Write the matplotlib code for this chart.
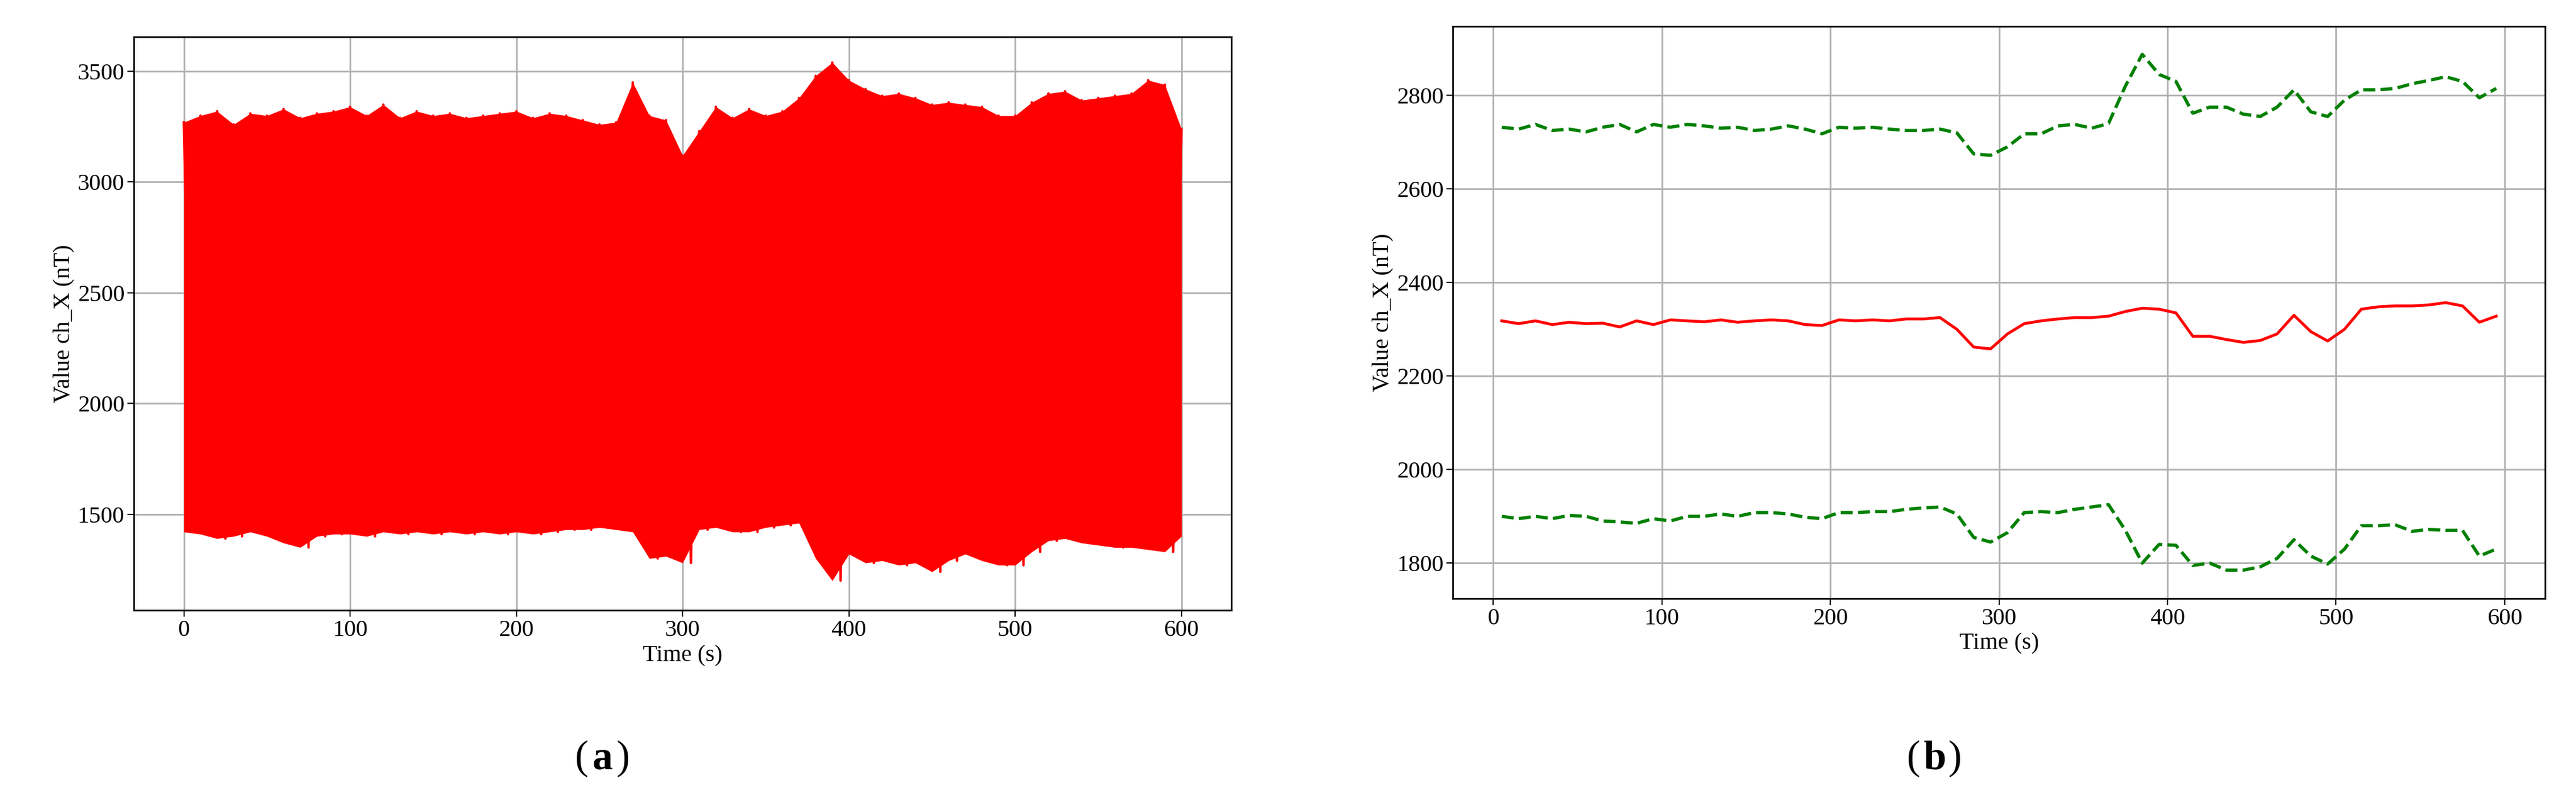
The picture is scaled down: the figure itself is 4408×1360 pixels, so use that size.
import numpy as np
import matplotlib
matplotlib.use("Agg")
import matplotlib.pyplot as plt

plt.rcParams['font.family'] = ['Liberation Serif', 'DejaVu Serif']

# Panel (a): envelope of the dense signal (every 10 s)
t_a = list(range(0, 601, 10))
upper_a = [3270,3300,3320,3260,3310,3300,3330,3290,3310,3320,
           3340,3300,3350,3290,3320,3300,3310,3290,3300,3310,
           3320,3290,3310,3300,3280,3260,3270,3450,3300,3280,
           3120,3230,3340,3290,3330,3300,3320,3380,3480,3540,
           3460,3420,3390,3400,3380,3350,3360,3350,3340,3300,
           3300,3360,3400,3410,3370,3380,3390,3400,3460,3440,3240]
lower_a = [1420,1410,1390,1400,1420,1400,1370,1350,1400,1410,
           1410,1400,1420,1410,1420,1410,1420,1410,1420,1410,
           1420,1410,1420,1430,1430,1440,1430,1420,1300,1310,
           1280,1430,1440,1420,1420,1440,1450,1460,1300,1200,
           1320,1280,1290,1270,1280,1240,1290,1320,1290,1270,
           1270,1330,1380,1390,1370,1360,1350,1350,1340,1330,1400]

# Panel (b)
t_b = list(range(5, 600, 10))
mid_b = [2318,2312,2318,2310,2315,2312,2313,2305,2318,2310,
         2320,2318,2316,2320,2315,2318,2320,2318,2310,2308,
         2320,2318,2320,2318,2322,2322,2325,2300,2262,2258,
         2290,2312,2318,2322,2325,2325,2328,2338,2345,2343,
         2335,2285,2285,2278,2272,2276,2290,2330,2295,2275,
         2300,2343,2348,2350,2350,2352,2357,2350,2315,2328]
up_b = [2732,2728,2738,2725,2728,2722,2732,2738,2722,2738,
        2732,2738,2735,2730,2732,2725,2728,2735,2728,2718,
        2732,2730,2732,2728,2725,2725,2728,2720,2675,2672,
        2690,2718,2718,2735,2738,2730,2740,2820,2888,2845,
        2830,2762,2775,2775,2760,2755,2775,2812,2765,2755,
        2790,2812,2812,2815,2825,2832,2840,2830,2795,2815]
low_b = [1900,1895,1900,1895,1902,1900,1890,1888,1885,1895,
         1890,1900,1900,1905,1900,1908,1908,1905,1898,1895,
         1908,1908,1910,1910,1915,1918,1920,1905,1855,1845,
         1865,1908,1910,1908,1915,1920,1925,1870,1800,1840,
         1838,1795,1800,1785,1785,1792,1810,1850,1815,1798,
         1830,1880,1880,1882,1868,1872,1870,1870,1815,1830]

fig = plt.figure(figsize=(44.08, 13.6), dpi=100)
ax1 = fig.add_axes([0.052, 0.232, 0.426, 0.722])
ax2 = fig.add_axes([0.564, 0.247, 0.424, 0.72])

tz, yz = [], []
for i in range(len(t_a)):
    tz.append(t_a[i]); yz.append(upper_a[i])
    if i < len(t_a) - 1:
        tz.append(t_a[i] + 5); yz.append(lower_a[i])
ax1.fill_between(t_a, lower_a, upper_a, color='red', lw=0)
ax1.plot(tz, yz, color='red', lw=3)
ax1.set_xlim(-30, 630)
ax1.set_ylim(1065, 3657)
ax1.set_xticks([0, 100, 200, 300, 400, 500, 600])
ax1.set_yticks([1500, 2000, 2500, 3000, 3500])

ax2.plot(t_b, mid_b, color='red', lw=3.5)
ax2.plot(t_b, up_b, color='green', lw=4, ls='--')
ax2.plot(t_b, low_b, color='green', lw=4, ls='--')
ax2.set_xlim(-24, 624)
ax2.set_ylim(1724, 2948)
ax2.set_xticks([0, 100, 200, 300, 400, 500, 600])
ax2.set_yticks([1800, 2000, 2200, 2400, 2600, 2800])

for ax in (ax1, ax2):
    ax.grid(True, color='#b0b0b0', lw=2)
    ax.set_axisbelow(True)
    ax.tick_params(labelsize=29, length=8, width=1.5)
    ax.set_xlabel('Time (s)', fontsize=29)
    ax.set_ylabel('Value ch_X (nT)', fontsize=29)
    for s in ax.spines.values():
        s.set_linewidth(2)

for xc, ch in ((1031, 'a'), (3310, 'b')):
    x = xc / 4408
    y = 1 - 1298 / 1360
    fig.text(x, y, ch, fontsize=50, fontweight='bold', ha='center', va='center')
    fig.text(x - 0.0055, y, '(', fontsize=50, ha='right', va='center')
    fig.text(x + 0.0055, y, ')', fontsize=50, ha='left', va='center')

fig.savefig('out.png', dpi=100)
